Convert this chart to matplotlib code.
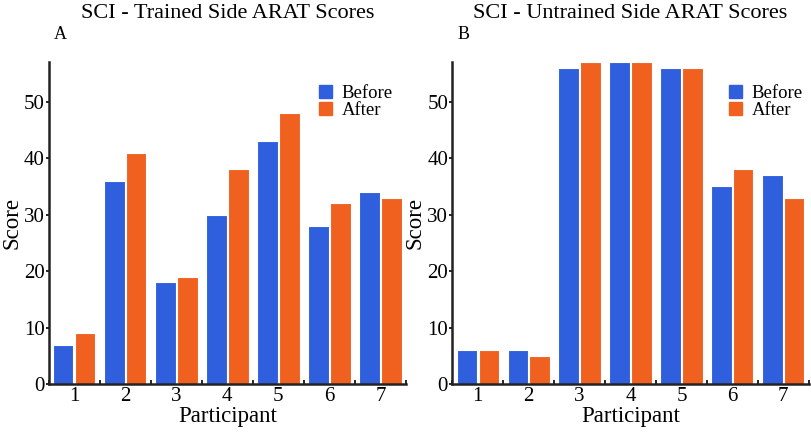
import numpy as np
import matplotlib.pyplot as plt
from matplotlib.patches import Patch

participants = [1, 2, 3, 4, 5, 6, 7]
trained_before = [7, 36, 18, 30, 43, 28, 34]
trained_after = [9, 41, 19, 38, 48, 32, 33]
untrained_before = [6, 6, 56, 57, 56, 35, 37]
untrained_after = [6, 5, 57, 57, 56, 38, 33]

blue = '#2f5fdc'
orange = '#f0601f'

plt.rcParams['font.family'] = ['Liberation Serif', 'DejaVu Serif']

fig = plt.figure(figsize=(8.12, 4.32), dpi=100)
axA = fig.add_axes([0.060, 0.111, 0.440, 0.745])
axB = fig.add_axes([0.557, 0.111, 0.439, 0.745])

def draw(ax, before, after, title, letter, legx):
    x = np.array(participants)
    ax.bar(x - 0.215, before, width=0.40, color=blue, edgecolor='white', linewidth=0.8)
    ax.bar(x + 0.215, after, width=0.40, color=orange, edgecolor='white', linewidth=0.8)
    ax.set_xlim(0.5, 7.5)
    ax.set_ylim(0, 57)
    ax.set_yticks([0, 10, 20, 30, 40, 50])
    ax.set_xticks(x)
    ax.set_xticks(np.arange(0.5, 8, 1), minor=True)
    ax.tick_params(axis='x', which='major', length=0, labelsize=15, pad=2)
    ax.tick_params(axis='x', which='minor', length=3, width=1.2, direction='in')
    ax.tick_params(axis='y', length=2, width=1.2, labelsize=15, pad=1)
    for s in ['top', 'right']:
        ax.spines[s].set_visible(False)
    for s in ['left', 'bottom']:
        ax.spines[s].set_linewidth(1.8)
        ax.spines[s].set_color('#222222')
    ax.set_xlabel('Participant', fontsize=16.5, labelpad=0)
    ax.set_ylabel('Score', fontsize=16.5, labelpad=1)
    ax.set_title(title, fontsize=16, pad=32)
    ax.text(0.015, 1.06, letter, transform=ax.transAxes, fontsize=13, va='bottom')
    handles = [Patch(color=blue, label='Before'), Patch(color=orange, label='After')]
    ax.legend(handles=handles, loc='upper right', bbox_to_anchor=(legx, 0.965),
              frameon=False, fontsize=13.5, handlelength=0.7, handleheight=0.7,
              handletextpad=0.5, labelspacing=0.0, borderaxespad=0.2)

draw(axA, trained_before, trained_after, 'SCI - Trained Side ARAT Scores', 'A', 0.995)
draw(axB, untrained_before, untrained_after, 'SCI - Untrained Side ARAT Scores', 'B', 1.015)

fig.savefig('out.png', dpi=100)
